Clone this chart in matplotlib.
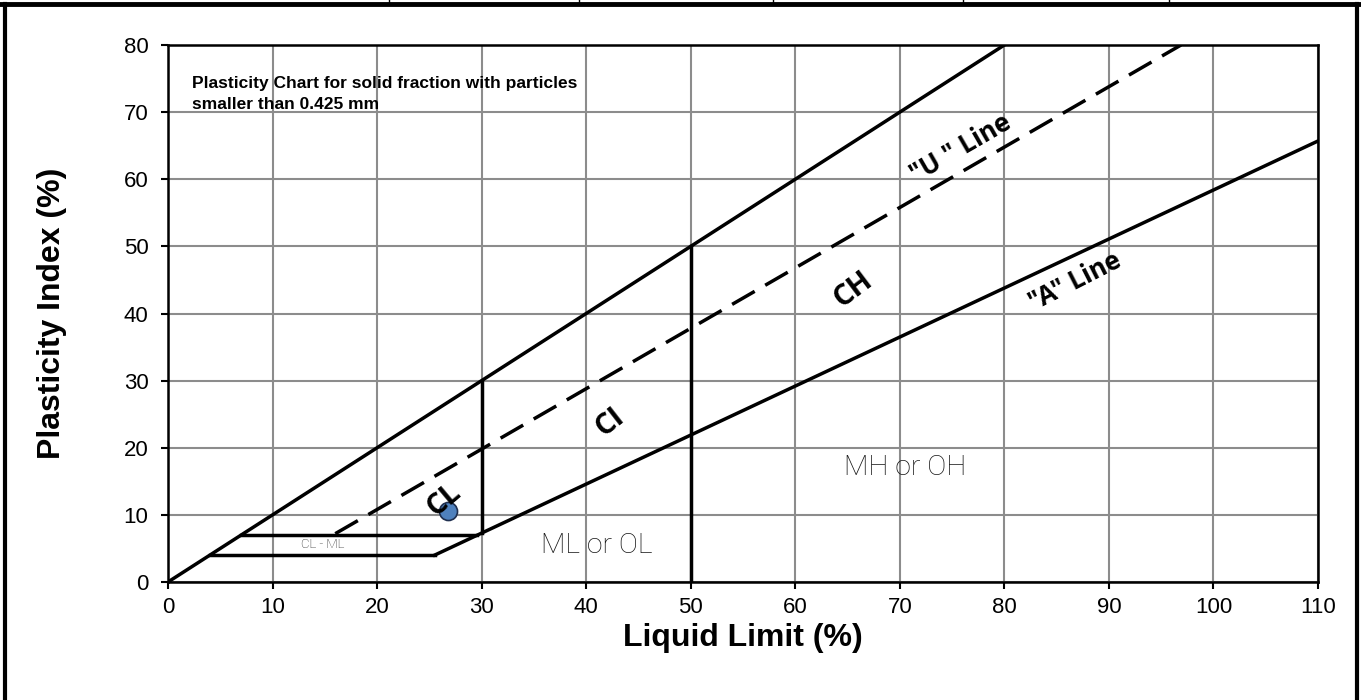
import matplotlib.pyplot as plt
from matplotlib.lines import Line2D

# Limit lines of the plasticity chart (LL, PI)
upper_ll = [0, 80]
upper_pi = [0, 80]
u_ll = [16, 96.9]
u_pi = [7.2, 80]
a_ll = [25.5, 110]
a_pi = [4.0, 65.7]
clml_top_ll = [7, 29.6]
clml_top_pi = [7, 7]
clml_bot_ll = [4, 25.5]
clml_bot_pi = [4, 4]
v30_ll = [30, 30]
v30_pi = [7.3, 30]
v50_ll = [50, 50]
v50_pi = [0, 50]

# Sample result
sample_ll = [26.8]
sample_pi = [10.6]

x_ticks = list(range(0, 111, 10))
y_ticks = list(range(0, 81, 10))

fig = plt.figure(figsize=(13.61, 7.0), dpi=100)
ax = fig.add_axes([168 / 1361, 1 - 582 / 700, (1318 - 168) / 1361, (582 - 45) / 700])

ax.set_xlim(0, 110)
ax.set_ylim(0, 80)
ax.set_xticks(x_ticks)
ax.set_yticks(y_ticks)
ax.grid(True, color='#8c8c8c', linewidth=1.5)
ax.set_axisbelow(True)
for s in ax.spines.values():
    s.set_linewidth(1.8)
    s.set_color('black')
ax.tick_params(direction='out', length=5, width=1.5, labelsize=16)
ax.tick_params(axis='x', pad=6)
ax.tick_params(axis='y', pad=9)
for lbl in ax.get_xticklabels() + ax.get_yticklabels():
    lbl.set_family('Liberation Sans')

lw = 2.5
ax.plot(upper_ll, upper_pi, color='black', lw=lw)
ax.plot(u_ll, u_pi, color='black', lw=lw, dashes=(7.5, 3.5))
ax.plot(a_ll, a_pi, color='black', lw=lw)
ax.plot(clml_top_ll, clml_top_pi, color='black', lw=lw)
ax.plot(clml_bot_ll, clml_bot_pi, color='black', lw=lw)
ax.plot(v30_ll, v30_pi, color='black', lw=lw)
ax.plot(v50_ll, v50_pi, color='black', lw=lw)

ax.plot(sample_ll, sample_pi, 'o', markersize=13, markerfacecolor='#4f81bd',
        markeredgecolor='#1f2f4f', markeredgewidth=1.2, zorder=5)

# zone labels
zkw = dict(family='Open Sans', fontweight='bold', ha='center', va='center', color='black')
ax.text(26.4, 12.2, 'CL', fontsize=21, rotation=40, zorder=6, **zkw)
ax.text(42.3, 23.8, 'CI', fontsize=21, rotation=38, **zkw)
ax.text(65.5, 43.5, 'CH', fontsize=21, rotation=37, **zkw)
ax.text(75.8, 64.6, '"U " Line', fontsize=18.5, rotation=30, **zkw)
ax.text(86.8, 44.8, '"A" Line', fontsize=18.5, rotation=27, **zkw)

lkw = dict(family='Roboto', fontweight='light', ha='center', va='center', color='#151515')
ax.text(41.0, 5.5, 'ML or OL', fontsize=20.5, **lkw)
ax.text(70.5, 17.1, 'MH or OH', fontsize=20.5, **lkw)
ax.text(14.8, 5.6, 'CL - ML', fontsize=9.5, **lkw)

ax.text(2.3, 75.4, 'Plasticity Chart for solid fraction with particles\nsmaller than 0.425 mm',
        family='Liberation Sans', fontweight='bold', fontsize=12.55, ha='left', va='top',
        linespacing=1.55)

ax.set_xlabel('Liquid Limit (%)', family='Liberation Sans', fontweight='bold', fontsize=23)
ax.set_ylabel('Plasticity Index (%)', family='Liberation Sans', fontweight='bold', fontsize=23)
ax.xaxis.set_label_coords(0.5, (582 - 638) / 537)
ax.xaxis.label.set_va('center')
ax.yaxis.set_label_coords((52 - 168) / 1150, 0.5)
ax.yaxis.label.set_va('center')

# page frame around the chart
def fline(x, y, w):
    fig.add_artist(Line2D([v / 1361 for v in x], [1 - v / 700 for v in y], color='black', lw=w))

fline([0, 1361], [4, 4], 3.5)
fline([5, 5], [4, 700], 3)
fline([1357, 1357], [4, 700], 3)
for xc in [389, 579, 773, 963, 1169]:
    fline([xc, xc], [0, 4], 1)

fig.savefig('out.png', dpi=100)
